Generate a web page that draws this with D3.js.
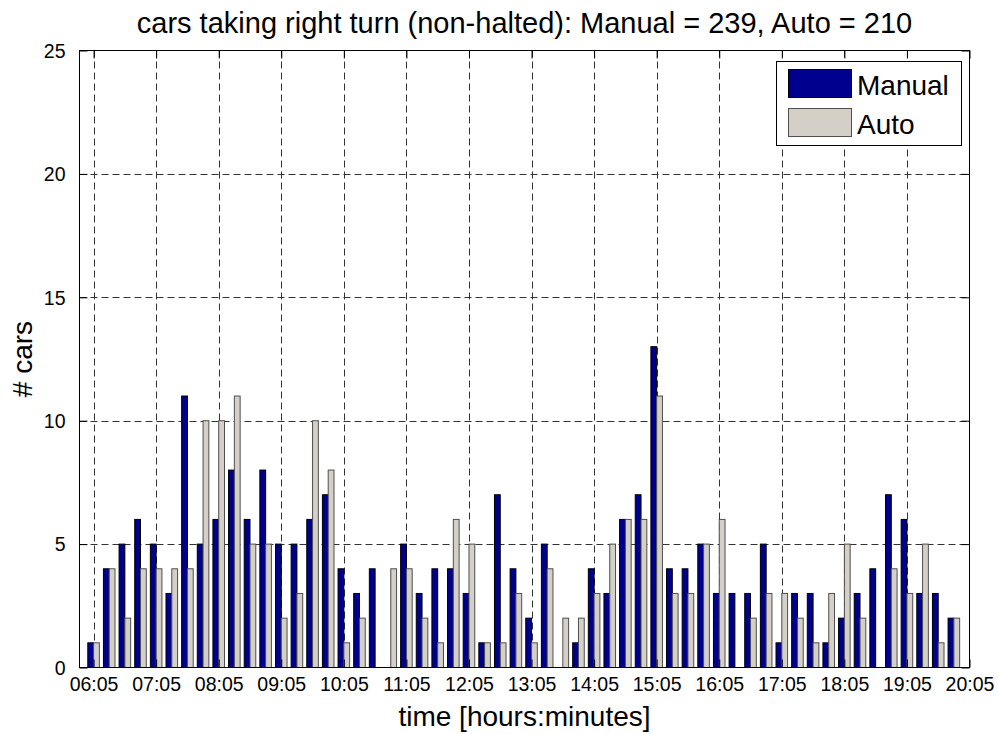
<!DOCTYPE html>
<html>
<head>
<meta charset="utf-8">
<script src="https://cdn.jsdelivr.net/npm/d3@7/dist/d3.min.js"></script>
<style>
  html, body { margin: 0; padding: 0; background: #ffffff; }
  svg { display: block; font-family: "Liberation Sans", Arial, Helvetica, sans-serif; }
</style>
</head>
<body>
<svg id="chart" width="999" height="734"></svg>
<script>
// Cars taking a right turn (non-halted), counted per 15-minute bin from 06:05 to 20:05
const seriesNames = ["Manual", "Auto"];
const manual = [1, 4, 5, 6, 5, 3, 11, 5, 6, 8, 6, 8, 5, 5, 6, 7, 4, 3, 4, 0,
                5, 3, 4, 4, 3, 1, 7, 4, 2, 5, 0, 1, 4, 3, 6, 7, 13, 4, 4, 5,
                3, 3, 3, 5, 1, 3, 3, 1, 2, 3, 4, 7, 6, 3, 3, 2];
const auto = [1, 4, 2, 4, 4, 4, 4, 10, 10, 11, 5, 5, 2, 3, 10, 8, 1, 2, 0, 4,
              4, 2, 1, 6, 5, 1, 1, 3, 1, 4, 2, 2, 3, 5, 6, 6, 11, 3, 3, 5,
              6, 0, 2, 3, 3, 2, 1, 3, 5, 2, 0, 4, 3, 5, 1, 2];
const hourLabels = ["06:05", "07:05", "08:05", "09:05", "10:05", "11:05", "12:05", "13:05",
                    "14:05", "15:05", "16:05", "17:05", "18:05", "19:05", "20:05"];
const yTicks = [0, 5, 10, 15, 20, 25];
const binsPerHour = 4;

const colors = { Manual: "#00008f", Auto: "#d4d0c8" };
const edges = { Manual: "#000000", Auto: "#4f4f4f" };

const totalManual = d3.sum(manual);
const totalAuto = d3.sum(auto);

const svg = d3.select("#chart");
const L = 79.5, R = 969.5, T = 50.5, B = 667.5;

const x = d3.scaleLinear().domain([-0.9, manual.length]).range([L, R]);
const y = d3.scaleLinear().domain([0, 25]).range([B, T]);
const step = x(1) - x(0);
const barW = 0.37 * step;

const tickVals = hourLabels.map((_, i) => i * binsPerHour);
const fmt = v => hourLabels[v / binsPerHour];

// white plot background
svg.append("rect").attr("x", L).attr("y", T).attr("width", R - L).attr("height", B - T)
  .attr("fill", "#ffffff");

// dashed grid
const grid = svg.append("g").attr("stroke", "#333333").attr("stroke-width", 1)
  .attr("stroke-dasharray", "7,4").attr("fill", "none");
tickVals.forEach(v => {
  const px = Math.round(x(v)) + 0.5;
  if (px > L + 1 && px < R - 1)
    grid.append("line").attr("x1", px).attr("x2", px).attr("y1", T).attr("y2", B);
});
yTicks.forEach(v => {
  const py = Math.round(y(v)) + 0.5;
  if (py > T + 1 && py < B - 1)
    grid.append("line").attr("x1", L).attr("x2", R).attr("y1", py).attr("y2", py);
});

// grouped bars
const data = manual.map((m, i) => ({ i, Manual: m, Auto: auto[i] }));
const offsets = { Manual: -0.185, Auto: 0.185 };
seriesNames.forEach(name => {
  svg.append("g").selectAll("rect").data(data).join("rect")
    .attr("x", d => x(d.i + offsets[name]) - barW / 2)
    .attr("width", barW)
    .attr("y", d => y(d[name]))
    .attr("height", d => y(0) - y(d[name]))
    .attr("fill", colors[name])
    .attr("stroke", edges[name])
    .attr("stroke-width", 1);
});

// axes with inward ticks on all four sides
const tickLen = 8;
const axisFont = 19.5;
const gx = svg.append("g").attr("transform", `translate(0,${B})`)
  .call(d3.axisBottom(x).tickValues(tickVals).tickFormat(fmt).tickSize(-tickLen));
const gxTop = svg.append("g").attr("transform", `translate(0,${T})`)
  .call(d3.axisTop(x).tickValues(tickVals).tickFormat("").tickSize(-tickLen));
const gy = svg.append("g").attr("transform", `translate(${L},0)`)
  .call(d3.axisLeft(y).tickValues(yTicks).tickSize(-tickLen).tickPadding(14));
const gyRight = svg.append("g").attr("transform", `translate(${R},0)`)
  .call(d3.axisRight(y).tickValues(yTicks).tickFormat("").tickSize(-tickLen));

[gx, gxTop, gy, gyRight].forEach(g => {
  g.select(".domain").remove();
  g.selectAll(".tick line").attr("stroke", "#000");
  g.selectAll(".tick text").attr("fill", "#000").attr("font-size", axisFont)
    .attr("font-family", "'Liberation Sans', Arial, sans-serif");
});
gx.selectAll(".tick text").attr("dy", null).attr("y", 23);
gy.selectAll(".tick text").attr("dy", "0.35em");

// axes box
svg.append("rect").attr("x", L).attr("y", T).attr("width", R - L).attr("height", B - T)
  .attr("fill", "none").attr("stroke", "#000").attr("stroke-width", 1);

// title and axis labels
svg.append("text").attr("x", (L + R) / 2).attr("y", 33).attr("text-anchor", "middle")
  .attr("font-size", 29).attr("fill", "#000")
  .text(`cars taking right turn (non-halted): Manual = ${totalManual}, Auto = ${totalAuto}`);
svg.append("text").attr("x", (L + R) / 2).attr("y", 726).attr("text-anchor", "middle")
  .attr("font-size", 28).attr("fill", "#000").text("time [hours:minutes]");
svg.append("text").attr("transform", `translate(32,${(T + B) / 2}) rotate(-90)`)
  .attr("text-anchor", "middle").attr("font-size", 28).attr("fill", "#000").text("# cars");

// legend
const lg = svg.append("g");
lg.append("rect").attr("x", 776.5).attr("y", 61.5).attr("width", 185).attr("height", 84)
  .attr("fill", "#ffffff").attr("stroke", "#000").attr("stroke-width", 1);
seriesNames.forEach((name, k) => {
  const top = 69.5 + k * 39;
  lg.append("rect").attr("x", 788.5).attr("y", top).attr("width", 63).attr("height", 28)
    .attr("fill", colors[name]).attr("stroke", edges[name]).attr("stroke-width", 1);
  lg.append("text").attr("x", 857).attr("y", top + 25.5).attr("font-size", 28)
    .attr("fill", "#000").text(name);
});
</script>
</body>
</html>
